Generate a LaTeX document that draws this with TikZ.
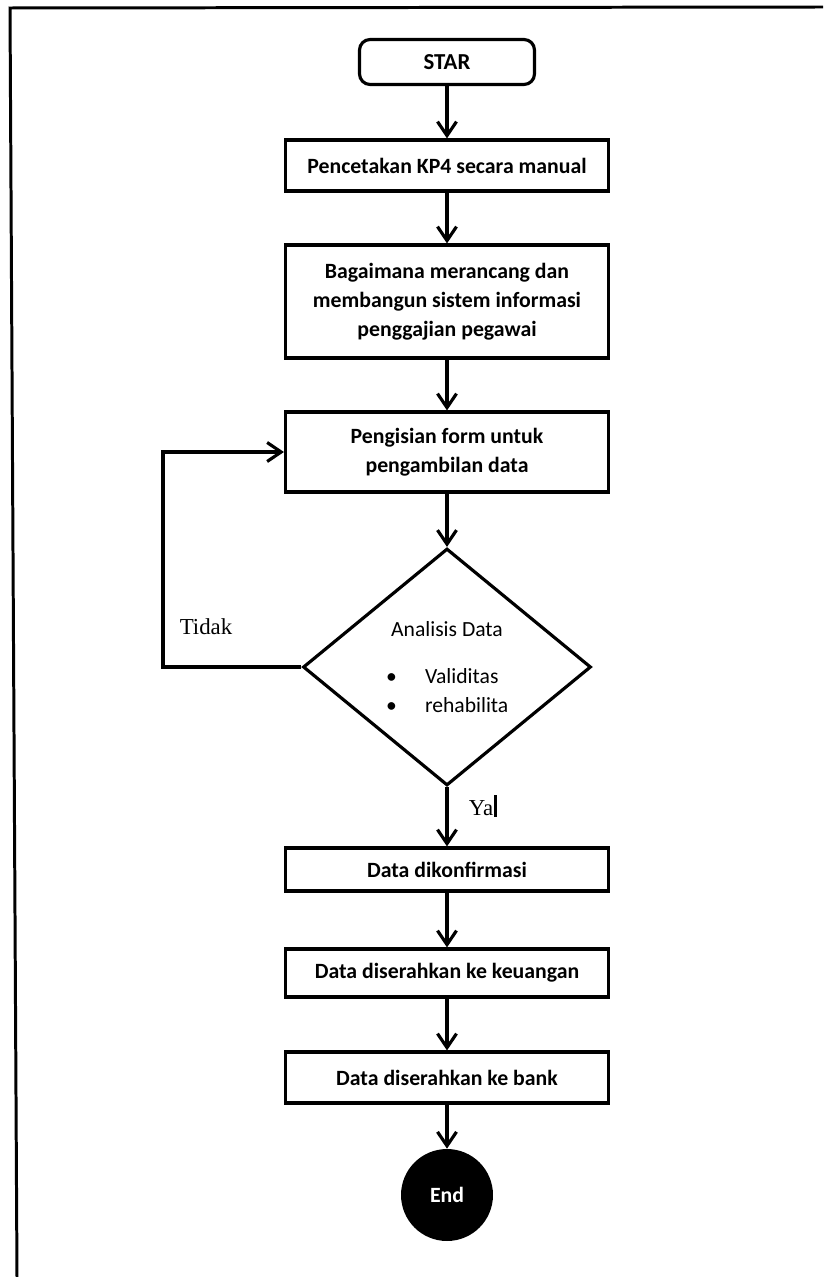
\documentclass[tikz,border=0pt]{standalone}
\usepackage{fontspec}
\setmainfont{Carlito}
\newfontfamily\serifface{Liberation Serif}
\usetikzlibrary{arrows.meta, positioning, shapes.geometric}

\tikzset{
  proses/.style={draw, line width=1.8pt, minimum width=6.46cm, align=center,
    font=\bfseries\fontsize{12.4}{16.5}\selectfont, inner sep=2pt},
  panah/.style={line width=1.8pt, -{Straight Barb[length=2.8mm,width=3.8mm,line width=1.8pt]}},
  isi/.style={font=\fontsize{12.3}{15}\selectfont},
  jawab/.style={font=\serifface\fontsize{13}{15}\selectfont, inner sep=0pt}
}

\begin{document}
\begin{tikzpicture}[x=0.02cm, y=-0.02cm]
\useasboundingbox (0,0) rectangle (823,1277);
% bingkai
\draw[line width=1.7pt] (17,1277) -- (10,8) -- (823,7);

\node[draw, line width=1.8pt, rounded corners=6pt, minimum width=3.5cm, minimum height=0.9cm,
  font=\bfseries\fontsize{13}{15}\selectfont] (star) at (447,62) {STAR};
\node[proses, minimum height=1.02cm] (cetak) at (447,165.5) {Pencetakan KP4 secara manual};
\node[proses, minimum height=2.26cm] (rancang) at (447,301.5) {Bagaimana merancang dan\\membangun sistem informasi\\penggajian pegawai};
\node[proses, minimum height=1.6cm] (form) at (447,452) {Pengisian form untuk\\pengambilan data};
\node[draw, diamond, line width=1.8pt, minimum width=5.76cm, minimum height=4.74cm, inner sep=0pt] (analisis) at (447,667) {};
\node[proses, minimum height=0.86cm] (konfirmasi) at (447,869.5) {Data dikonfirmasi};
\node[proses, minimum height=0.96cm] (keuangan) at (447,973) {Data diserahkan ke keuangan};
\node[proses, minimum height=1.02cm] (bank) at (447,1077.5) {Data diserahkan ke bank};
\node[circle, fill=black, minimum size=1.84cm, inner sep=0pt, text=white,
  font=\bfseries\fontsize{12.4}{14}\selectfont] (selesai) at (447,1195) {End};

% isi belah ketupat
\node[isi] (judul) at (447,629) {Analisis Data};
\node[isi, anchor=west] (valid) at (380,676) {\textbullet\hspace{1.3em}Validitas};
\node[isi, anchor=west] (rehab) at (380,705) {\textbullet\hspace{1.3em}rehabilita};

\draw[panah] (star) -- (cetak);
\draw[panah] (cetak) -- (rancang);
\draw[panah] (rancang) -- (form);
\draw[panah] (form) -- (analisis);
\draw[panah] (analisis) -- (konfirmasi);
\draw[panah] (konfirmasi) -- (keuangan);
\draw[panah] (keuangan) -- (bank);
\draw[panah] (bank) -- (selesai);

% kembali jika tidak
\coordinate (kiri) at (163,667);
\draw[panah] (analisis.west) -- (kiri) |- (form.west);

\node[jawab] (tidak) at (206,627) {Tidak};
\node[jawab] (ya) at (481,808) {Ya};
\draw[line width=1.6pt] (ya.north east) ++(2,-5) -- ++(0,22);
\end{tikzpicture}
\end{document}
